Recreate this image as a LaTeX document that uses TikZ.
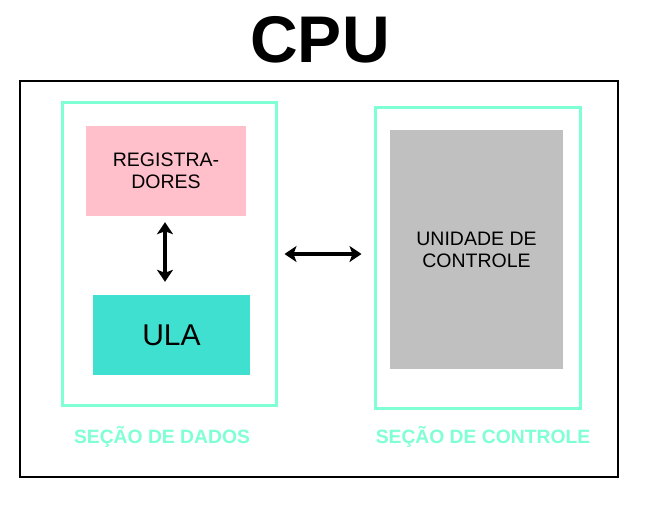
\documentclass[tikz,border=0pt]{standalone}
\usepackage{fontspec}
\setmainfont{Liberation Sans}
\usetikzlibrary{arrows.meta}
\definecolor{aqua}{RGB}{127,255,212}
\definecolor{pinkbox}{RGB}{255,192,203}
\definecolor{turq}{RGB}{64,224,208}
\definecolor{graybox}{RGB}{192,192,192}
\tikzset{
  section/.style={draw=aqua, line width=3pt, rectangle, inner sep=0pt},
  fillbox/.style={rectangle, inner sep=0pt, align=center, font=\fontsize{19.5}{22}\selectfont},
  seclabel/.style={text=aqua, font=\bfseries\fontsize{19.3}{22}\selectfont, inner sep=0pt},
  dbl/.style={{Stealth[length=12pt,width=16pt,inset=3pt]}-{Stealth[length=12pt,width=16pt,inset=3pt]}, line width=3.5pt}
}
\begin{document}
\begin{tikzpicture}[x=1pt,y=-1pt]
\useasboundingbox (0,0) rectangle (649,515);
\node[font=\bfseries\fontsize{66}{70}\selectfont, inner sep=0pt] (title) at (320,40) {CPU};
\node[draw=black, line width=1.5pt, rectangle, inner sep=0pt, minimum width=598pt, minimum height=396pt] (cpu) at (319,279) {};
\node[section, minimum width=214pt, minimum height=303pt] (dados) at (169,253.5) {};
\node[section, minimum width=205pt, minimum height=301pt] (controle) at (477.5,257.5) {};
\node[fillbox, fill=pinkbox, minimum width=160pt, minimum height=90pt] (reg) at (166,171) {REGISTRA-\\DORES};
\node[fillbox, fill=turq, minimum width=157pt, minimum height=80pt, font=\fontsize{30}{34}\selectfont] (ula) at (171.5,335) {ULA};
\node[fillbox, fill=graybox, minimum width=173pt, minimum height=239pt] (uc) at (476.5,249.5) {UNIDADE DE\\CONTROLE};
\draw[dbl, shorten <=6pt, shorten >=13pt] (reg.south -| 165,0) -- (ula.north -| 165,0);
\draw[dbl, shorten <=7pt, shorten >=12pt] (dados.east |- 0,254) -- (controle.west |- 0,254);
\node[seclabel] (ldados) at (162,437) {SEÇÃO DE DADOS};
\node[seclabel] (lcontrole) at (483,437) {SEÇÃO DE CONTROLE};
\end{tikzpicture}
\end{document}
